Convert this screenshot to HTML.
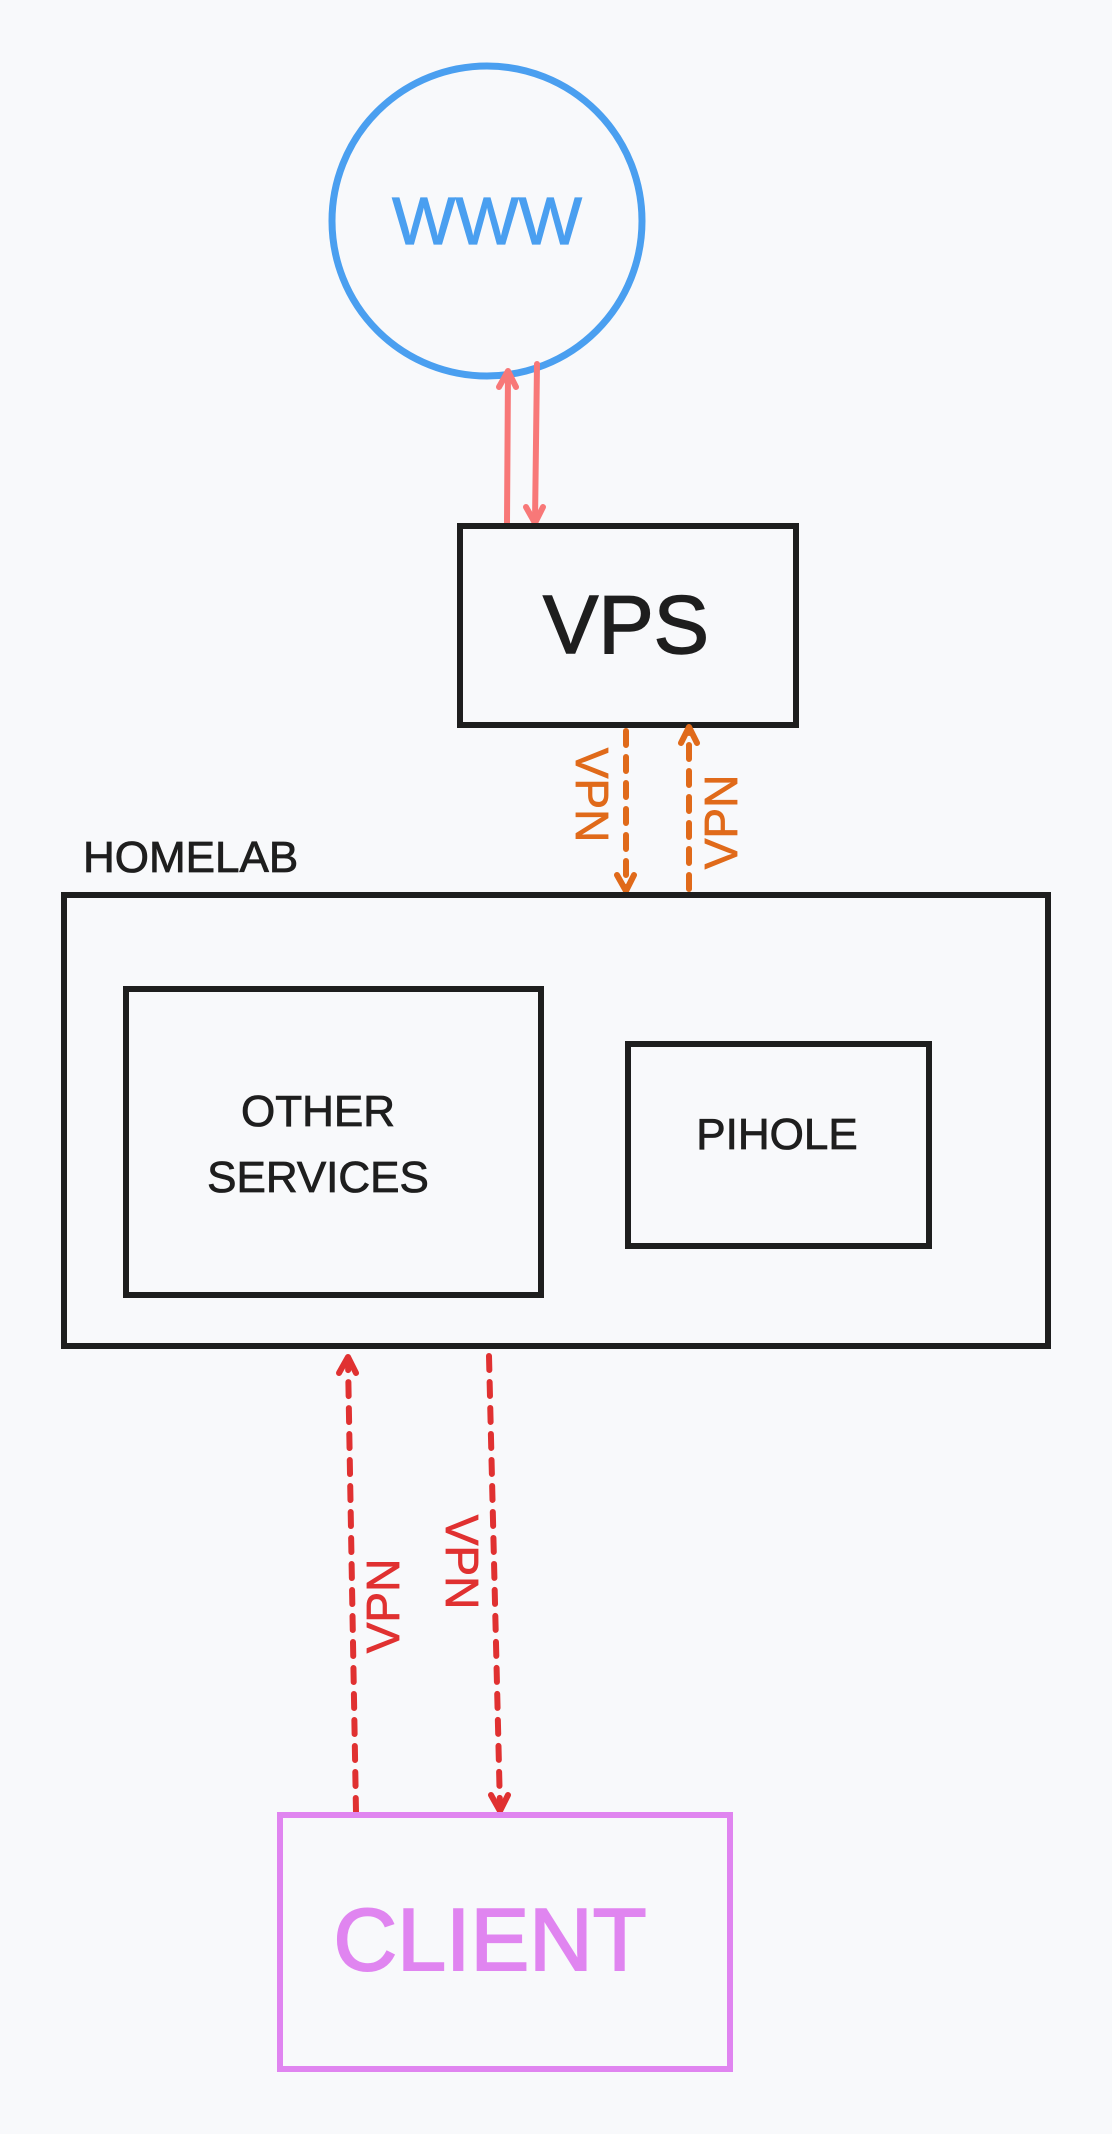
<!DOCTYPE html>
<html><head><meta charset="utf-8"><style>
html,body{margin:0;padding:0;background:#f8f9fb;}
svg{display:block;}
text{font-family:"Liberation Sans",sans-serif;}
</style></head><body>
<svg width="1112" height="2134" viewBox="0 0 1112 2134" xmlns="http://www.w3.org/2000/svg">
<rect width="1112" height="2134" fill="#f8f9fb"/>
<!-- WWW circle -->
<circle cx="487" cy="221" r="155" fill="none" stroke="#4a9ff0" stroke-width="7"/>
<text x="487" y="244" font-size="67" fill="#4a9ff0" stroke="#4a9ff0" stroke-width="1.2" text-anchor="middle">WWW</text>
<!-- red solid arrows -->
<g stroke="#f87878" stroke-width="6" fill="none" stroke-linecap="round" stroke-linejoin="round">
<line x1="507" y1="523" x2="508" y2="372"/>
<polyline points="499,387 508,371 516,387"/>
<line x1="537" y1="364" x2="535" y2="522"/>
<polyline points="526,507 535,523 543,507"/>
</g>
<!-- VPS -->
<rect x="460" y="526" width="336" height="199" fill="none" stroke="#1e1e1e" stroke-width="6"/>
<text x="626" y="653" font-size="83" fill="#1e1e1e" stroke="#1e1e1e" stroke-width="1.5" text-anchor="middle">VPS</text>
<!-- orange dashed -->
<g stroke="#e06a1a" stroke-width="6" fill="none" stroke-linecap="round" stroke-linejoin="round">
<line x1="626" y1="731" x2="626" y2="888" stroke-dasharray="14 12"/>
<polyline points="617,875 626,891 634,875"/>
<line x1="689" y1="889" x2="689" y2="730" stroke-dasharray="14 12"/>
<polyline points="681,743 689,727 697,743"/>
</g>
<text transform="translate(576,795) rotate(90)" font-size="46" fill="#e06a1a" stroke="#e06a1a" stroke-width="0.8" text-anchor="middle">VPN</text>
<text transform="translate(737,822) rotate(-90)" font-size="46" fill="#e06a1a" stroke="#e06a1a" stroke-width="0.8" text-anchor="middle">VPN</text>
<!-- HOMELAB -->
<text x="83" y="872" font-size="44" fill="#1e1e1e" stroke="#1e1e1e" stroke-width="0.8">HOMELAB</text>
<rect x="64" y="895" width="984" height="451" fill="none" stroke="#1e1e1e" stroke-width="6"/>
<rect x="126" y="989" width="415" height="306" fill="none" stroke="#1e1e1e" stroke-width="6"/>
<text x="318" y="1126" font-size="44" fill="#1e1e1e" stroke="#1e1e1e" stroke-width="0.8" text-anchor="middle">OTHER</text>
<text x="318" y="1192" font-size="44" fill="#1e1e1e" stroke="#1e1e1e" stroke-width="0.8" text-anchor="middle">SERVICES</text>
<rect x="628" y="1044" width="301" height="202" fill="none" stroke="#1e1e1e" stroke-width="6"/>
<text x="777" y="1149" font-size="44" fill="#1e1e1e" stroke="#1e1e1e" stroke-width="0.8" text-anchor="middle">PIHOLE</text>
<!-- red dashed -->
<g stroke="#e03131" stroke-width="6" fill="none" stroke-linecap="round" stroke-linejoin="round">
<line x1="356" y1="1812" x2="348" y2="1360" stroke-dasharray="14 12"/>
<polyline points="339,1373 348,1357 356,1373"/>
<line x1="489" y1="1356" x2="500" y2="1808" stroke-dasharray="14 12"/>
<polyline points="491,1795 500,1811 508,1795"/>
</g>
<text transform="translate(399,1606) rotate(-90)" font-size="46" fill="#e03131" stroke="#e03131" stroke-width="0.8" text-anchor="middle">VPN</text>
<text transform="translate(446,1562) rotate(90)" font-size="46" fill="#e03131" stroke="#e03131" stroke-width="0.8" text-anchor="middle">VPN</text>
<!-- CLIENT -->
<rect x="280" y="1815" width="450" height="254" fill="none" stroke="#e085f0" stroke-width="6"/>
<text x="490" y="1970" font-size="88" fill="#e085f0" stroke="#e085f0" stroke-width="2" text-anchor="middle">CLIENT</text>
</svg>
</body></html>
